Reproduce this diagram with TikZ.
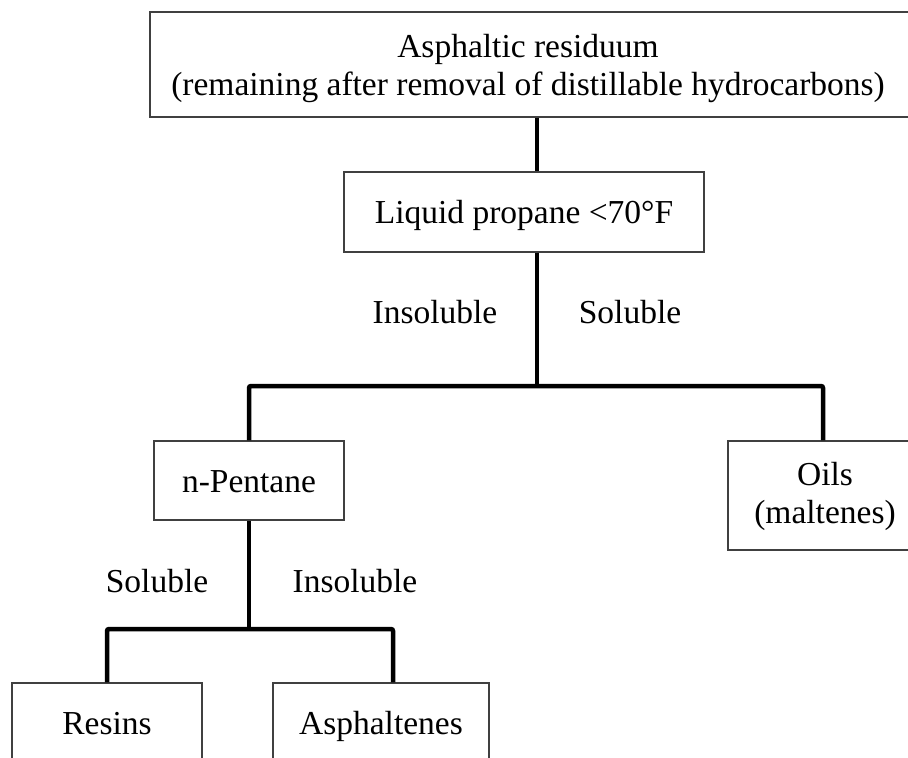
\documentclass[tikz,border=0pt]{standalone}
\usepackage{fontspec}
\setmainfont{Liberation Serif}
\begin{document}
\begin{tikzpicture}[x=1pt,y=-1pt,
  box/.style={draw=black!75, line width=1.4pt, fill=white, inner sep=0pt, align=center,
    text height=27pt, text depth=4pt, font=\fontsize{33.5}{38}\selectfont},
  lbl/.style={inner sep=0pt, anchor=base, font=\fontsize{33.5}{38}\selectfont},
  conn/.style={line width=4.5pt, line cap=butt, rounded corners=2pt}]
\useasboundingbox (0,0) rectangle (908,758);
\clip (0,0) rectangle (908,758);
% boxes
\node[box, minimum width=765pt, minimum height=105pt] (top) at (532.5,64.5) {};
\node[lbl] (topA) at (528,57) {Asphaltic residuum};
\node[lbl] (topB) at (528,95) {(remaining after removal of distillable hydrocarbons)};
\node[box, minimum width=360pt, minimum height=80pt] (prop) at (524,212) {Liquid propane <70°F};
\node[box, minimum width=190pt, minimum height=79pt] (npent) at (249,480.5) {n-Pentane};
\node[box, minimum width=194pt, minimum height=109pt] (oils) at (825,495.5) {};
\node[lbl] (oilsA) at (825,485) {Oils};
\node[lbl] (oilsB) at (825,523) {(maltenes)};
\node[box, minimum width=190pt, minimum height=80pt] (resins) at (107,723) {Resins};
\node[box, minimum width=216pt, minimum height=80pt] (asph) at (381,723) {Asphaltenes};
% labels
\node[lbl] (l1) at (435,323) {Insoluble};
\node[lbl] (l2) at (630,323) {Soluble};
\node[lbl] (l3) at (157,592) {Soluble};
\node[lbl] (l4) at (355,592) {Insoluble};
% junctions
\coordinate (j1) at (537,386);
\coordinate (o1) at (823,386);
\coordinate (j2) at (249,629);
\coordinate (a1) at (393,629);
% connectors
\draw[conn] (top.south -| j1) -- (prop.north -| j1);
\draw[conn] (prop.south -| j1) -- (j1);
\draw[conn] (npent.north) |- (j1) -- (o1) -- (oils.north -| o1);
\draw[conn] (npent.south) -- (j2);
\draw[conn] (resins.north) |- (j2) -- (a1) -- (asph.north -| a1);
\end{tikzpicture}
\end{document}
